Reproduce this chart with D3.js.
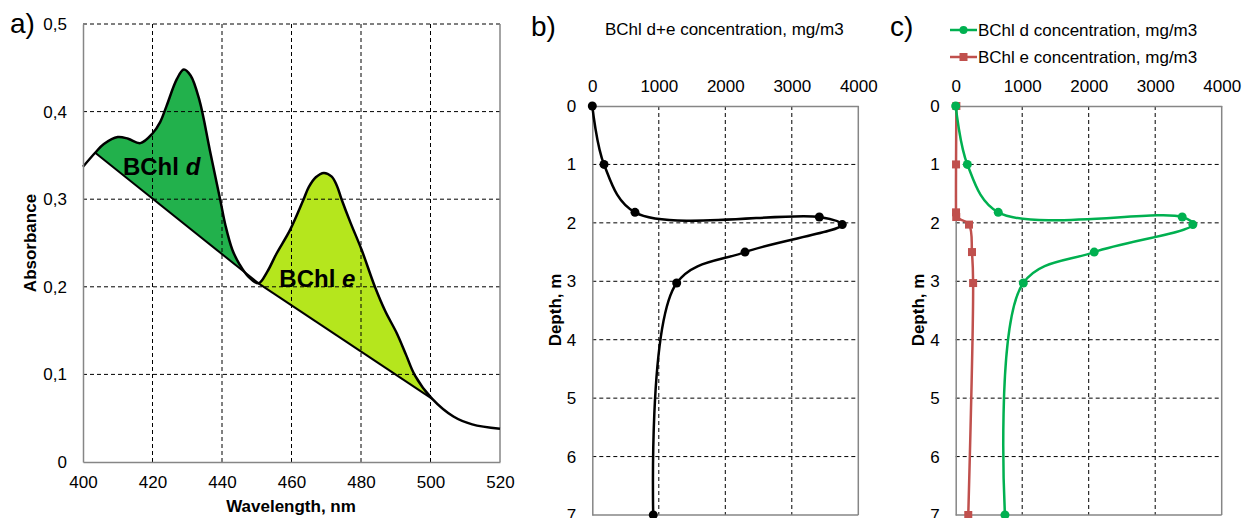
<!DOCTYPE html>
<html><head><meta charset="utf-8">
<script src="https://cdn.jsdelivr.net/npm/d3@7"></script>
<style>
body{margin:0;background:#fff;}
svg{display:block;font-family:"Liberation Sans",Arial,sans-serif;}
</style></head>
<body>
<svg id="chart" width="1244" height="518"></svg>
<script>
// ---------- Data ----------
// Panel a: absorbance spectrum
const wavelength = [400,403.5,406,410,413,416.5,420,422.2,424,427,429,431,433.5,436.5,439.5,441,443,445,447.5,450.5,453,455.7,459.6,463.4,465,467,469.3,471.5,473,474.4,477,480.2,484,487,490.3,493,495.5,500.3,506.6,512,520];
const absorbance = [0.337,0.353,0.363,0.371,0.369,0.364,0.375,0.388,0.406,0.437,0.448,0.441,0.413,0.356,0.299,0.27,0.242,0.226,0.212,0.204,0.217,0.238,0.265,0.299,0.314,0.325,0.330,0.326,0.316,0.300,0.273,0.242,0.2,0.172,0.147,0.122,0.099,0.073,0.052,0.043,0.038];
const baselineDWl = [403.5,450.5], baselineDAbs = [0.353,0.204];
const baselineEWl = [450.5,500.5], baselineEAbs = [0.204,0.072];
const wlTicks = [400,420,440,460,480,500,520];
const absTicks = [0,0.1,0.2,0.3,0.4,0.5];
const absTickLabels = ["0","0,1","0,2","0,3","0,4","0,5"];
// Panels b, c: depth profiles
const depth = [0,1,1.82,1.9,2.03,2.5,3.03,7];
const bchlTotal = [0,176,642,3414,3759,2296,1269,917];
const bchlD = [0,175,640,3406,3566,2083,1017,741];
const bchlE = [10,5,5,8,200,245,262,189];
const concTicks = [0,1000,2000,3000,4000];
const depthTicks = [0,1,2,3,4,5,6,7];

// ---------- Drawing ----------
const svg = d3.select("#chart");
const FONT = 17;
const GRAY = "#868686";
const smooth = d3.curveCatmullRom.alpha(0.5);

function grid(g, x, y, xv, yv, x0, x1, y0, y1){
  xv.forEach(v=>g.append("line").attr("x1",x(v)).attr("x2",x(v)).attr("y1",y0).attr("y2",y1)
    .attr("stroke","#000").attr("stroke-width",1).attr("stroke-dasharray","4,3"));
  yv.forEach(v=>g.append("line").attr("y1",y(v)).attr("y2",y(v)).attr("x1",x0).attr("x2",x1)
    .attr("stroke","#000").attr("stroke-width",1).attr("stroke-dasharray","4,3"));
}
function styleAxis(ax){
  ax.select(".domain").attr("stroke",GRAY).attr("stroke-width",1.5);
  ax.selectAll(".tick line").remove();
  ax.selectAll("text").attr("font-size",FONT).attr("fill","#000").attr("font-family","Liberation Sans, Arial, sans-serif");
}

// ----- Panel a -----
{
  const x = d3.scaleLinear().domain([400,520]).range([83,500]);
  const y = d3.scaleLinear().domain([0,0.5]).range([462,24]);
  const g = svg.append("g");
  const pts = wavelength.map((w,i)=>[w,absorbance[i]]);
  const area = d3.area().x(d=>x(d[0])).y0(y(0)).y1(d=>y(d[1])).curve(smooth);
  const defs = svg.append("defs");
  const clipPoly = (id, wl, ab) => {
    defs.append("clipPath").attr("id",id).append("polygon")
      .attr("points",[[x(wl[0]),y(ab[0])],[x(wl[1]),y(ab[1])],[x(wl[1]),0],[x(wl[0]),0]].map(p=>p.join(",")).join(" "));
  };
  clipPoly("clipD", baselineDWl, baselineDAbs);
  clipPoly("clipE", baselineEWl, baselineEAbs);
  g.append("path").attr("d",area(pts)).attr("fill","#22B14C").attr("clip-path","url(#clipD)");
  g.append("path").attr("d",area(pts)).attr("fill","#B5E61D").attr("clip-path","url(#clipE)");

  grid(g, x, y, wlTicks.slice(1,-1), absTicks.slice(1), 83, 500, 24, 462);
  g.append("line").attr("x1",x(520)).attr("x2",x(520)).attr("y1",24).attr("y2",462).attr("stroke",GRAY).attr("stroke-width",1.5);

  const lineB = d3.line().x(d=>x(d[0])).y(d=>y(d[1]));
  g.append("path").attr("d",lineB(baselineDWl.map((w,i)=>[w,baselineDAbs[i]]))).attr("stroke","#000").attr("stroke-width",2).attr("fill","none");
  g.append("path").attr("d",lineB(baselineEWl.map((w,i)=>[w,baselineEAbs[i]]))).attr("stroke","#000").attr("stroke-width",2).attr("fill","none");
  g.append("path").attr("d",d3.line().x(d=>x(d[0])).y(d=>y(d[1])).curve(smooth)(pts))
    .attr("stroke","#000").attr("stroke-width",2.5).attr("fill","none");

  const ax = g.append("g").attr("transform","translate(0,462)").call(d3.axisBottom(x).tickValues(wlTicks).tickFormat(d3.format("d")).tickSize(0).tickPadding(14));
  styleAxis(ax);
  const ay = g.append("g").attr("transform","translate(83,0)").call(d3.axisLeft(y).tickValues(absTicks).tickFormat((d,i)=>absTickLabels[i]).tickSize(0).tickPadding(16));
  styleAxis(ay);

  g.append("text").attr("x",291).attr("y",512).attr("text-anchor","middle").attr("font-size",FONT).attr("font-weight","bold").text("Wavelength, nm");
  g.append("text").attr("transform","translate(36,243) rotate(-90)").attr("text-anchor","middle").attr("font-size",FONT).attr("font-weight","bold").text("Absorbance");
  g.append("text").attr("x",10).attr("y",33).attr("font-size",28).text("a)");

  const t1 = g.append("text").attr("x",x(411.5)).attr("y",y(0.328)).attr("font-size",24).attr("font-weight","bold");
  t1.append("tspan").text("BChl ");
  t1.append("tspan").attr("font-style","italic").text("d");
  const t2 = g.append("text").attr("x",x(456.5)).attr("y",y(0.2)).attr("font-size",24).attr("font-weight","bold");
  t2.append("tspan").text("BChl ");
  t2.append("tspan").attr("font-style","italic").text("e");
}

// ----- Panels b, c -----
function profile(left, right, series, labelX){
  const x = d3.scaleLinear().domain([0,4000]).range([left,right]);
  const y = d3.scaleLinear().domain([0,7]).range([106,515]);
  const g = svg.append("g");
  grid(g, x, y, concTicks.slice(1,-1), depthTicks.slice(1,-1), left, right, 106, 515);
  g.append("line").attr("x1",right).attr("x2",right).attr("y1",106).attr("y2",515).attr("stroke",GRAY).attr("stroke-width",1.5);
  g.append("line").attr("x1",left).attr("x2",right).attr("y1",515).attr("y2",515).attr("stroke",GRAY).attr("stroke-width",1.5);
  const ay = g.append("g").attr("transform",`translate(${left},0)`).call(d3.axisLeft(y).tickValues(depthTicks).tickFormat(d3.format("d")).tickSize(0).tickPadding(16));
  styleAxis(ay);
  const ax = g.append("g").attr("transform","translate(0,106)").call(d3.axisTop(x).tickValues(concTicks).tickFormat(d3.format("d")).tickSize(0).tickPadding(14));
  styleAxis(ax);
  g.append("text").attr("transform",`translate(${labelX},310) rotate(-90)`).attr("text-anchor","middle").attr("dy","0.35em")
    .attr("font-size",FONT).attr("font-weight","bold").text("Depth, m");
  series.forEach(s=>{
    const pts = s.values.map((v,i)=>[v,depth[i]]);
    g.append("path").attr("d",d3.line().x(d=>x(d[0])).y(d=>y(d[1])).curve(smooth)(pts))
      .attr("stroke",s.color).attr("stroke-width",2.5).attr("fill","none");
    if(s.marker==="circle"){
      g.selectAll(null).data(pts).join("circle").attr("cx",d=>x(d[0])).attr("cy",d=>y(d[1])).attr("r",4.5).attr("fill",s.color);
    } else {
      g.selectAll(null).data(pts).join("rect").attr("x",d=>x(d[0])-4).attr("y",d=>y(d[1])-4).attr("width",8).attr("height",8).attr("fill",s.color);
    }
  });
  return g;
}

const gb = profile(592.3, 858.3, [{values:bchlTotal,color:"#000",marker:"circle"}], 555);
gb.append("text").attr("x",531).attr("y",36).attr("font-size",28).text("b)");
gb.append("text").attr("x",605).attr("y",35).attr("font-size",FONT).text("BChl d+e concentration, mg/m3");

const gc = profile(955.7, 1221.7, [
  {values:bchlE,color:"#C0504D",marker:"square"},
  {values:bchlD,color:"#00B050",marker:"circle"}], 918);
gc.append("text").attr("x",890).attr("y",36).attr("font-size",28).text("c)");
const legend = [
  {label:"BChl d concentration, mg/m3", color:"#00B050", marker:"circle", y:30},
  {label:"BChl e concentration, mg/m3", color:"#C0504D", marker:"square", y:57}];
legend.forEach(l=>{
  gc.append("line").attr("x1",950).attr("x2",977).attr("y1",l.y).attr("y2",l.y).attr("stroke",l.color).attr("stroke-width",2.5);
  if(l.marker==="circle") gc.append("circle").attr("cx",963.5).attr("cy",l.y).attr("r",4).attr("fill",l.color);
  else gc.append("rect").attr("x",959.5).attr("y",l.y-4).attr("width",8).attr("height",8).attr("fill",l.color);
  gc.append("text").attr("x",978).attr("y",l.y+5.5).attr("font-size",FONT).text(l.label);
});
</script>
</body></html>
